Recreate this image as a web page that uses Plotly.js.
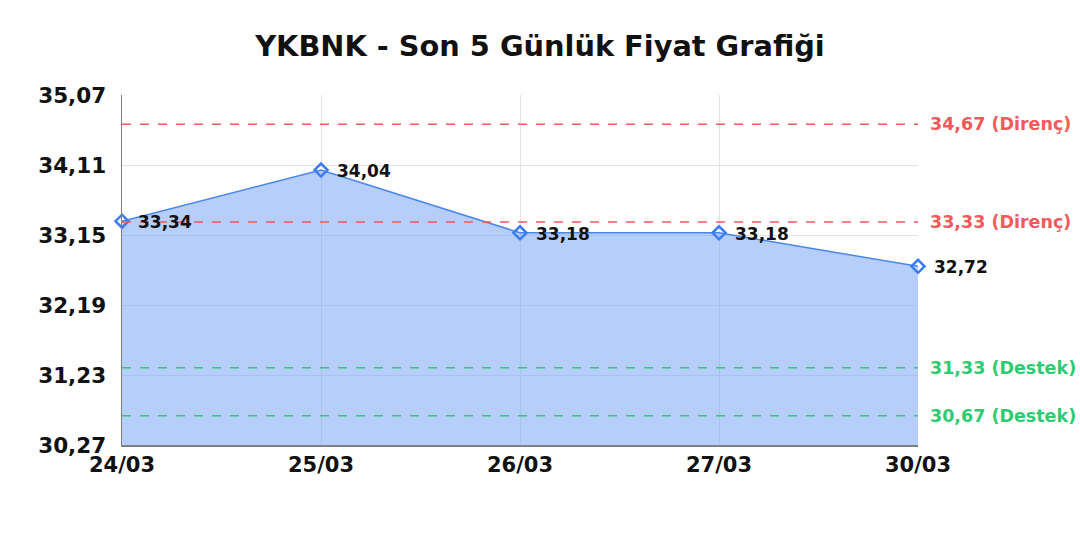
<!DOCTYPE html>
<html>
<head>
<meta charset="utf-8">
<script src="https://cdn.plot.ly/plotly-3.0.1.min.js"></script>
<style>
  html, body { margin: 0; padding: 0; background: #fff; }
  #chart { width: 1080px; height: 540px; }
</style>
</head>
<body>
<div id="chart"></div>
<script>
// price data
const days = ["24/03", "25/03", "26/03", "27/03", "30/03"];
const prices = [33.34, 34.04, 33.18, 33.18, 32.72];

// y axis ticks
const yTicks = [30.27, 31.23, 32.19, 33.15, 34.11, 35.07];

// support / resistance levels
const levels = [34.67, 33.33, 31.33, 30.67];
const levelNames = ["Direnç", "Direnç", "Destek", "Destek"];
const levelColors = ["#f25a5a", "#f25a5a", "#2ecc71", "#2ecc71"];

const fmt = v => v.toFixed(2).replace(".", ",");

const trace = {
  x: days,
  y: prices,
  type: "scatter",
  mode: "lines+markers",
  fill: "tozeroy",
  fillcolor: "rgba(120,165,245,0.55)",
  line: { color: "#4a86f0", width: 1.5 },
  marker: { symbol: "diamond-open", size: 10, color: "#3b7cf0", line: { width: 2.5 } },
  cliponaxis: false,
  hoverinfo: "skip"
};

const shapes = levels.map((v, i) => ({
  type: "line", xref: "paper", x0: 0, x1: 1, yref: "y", y0: v, y1: v,
  line: { color: levelColors[i], width: 1.5, dash: "dash" }
}));

const annotations = levels.map((v, i) => ({
  xref: "paper", x: 1, xanchor: "left", xshift: 10,
  yref: "y", y: v, yanchor: "middle",
  text: fmt(v) + " (" + levelNames[i] + ")",
  showarrow: false,
  font: { family: "DejaVu Sans", size: 17.5, color: levelColors[i], weight: "bold" }
})).concat(prices.map((p, i) => ({
  x: i, y: p, xref: "x", yref: "y",
  xanchor: "left", yanchor: "middle", xshift: 14, yshift: -1,
  text: fmt(p), showarrow: false,
  font: { family: "DejaVu Sans", size: 17, color: "#111", weight: "bold" }
})));

const layout = {
  width: 1080, height: 540,
  paper_bgcolor: "#fff", plot_bgcolor: "#fff",
  margin: { l: 122, r: 162, t: 95, b: 95 },
  title: {
    text: "YKBNK - Son 5 Günlük Fiyat Grafiği",
    x: 0.5, xanchor: "center", y: 0.915, yanchor: "middle",
    font: { family: "DejaVu Sans", size: 28.8, color: "#111", weight: "bold" }
  },
  showlegend: false,
  xaxis: {
    type: "category", range: [0, 4],
    showgrid: true, gridcolor: "#e3e3e3", gridwidth: 1,
    showline: true, linecolor: "#808080", linewidth: 1.5,
    ticks: "", ticklen: 0,
    tickfont: { family: "DejaVu Sans", size: 21, color: "#111", weight: "bold" },
    fixedrange: true, zeroline: false
  },
  yaxis: {
    range: [yTicks[0], yTicks[yTicks.length - 1]],
    tickvals: yTicks, ticktext: yTicks.map(fmt),
    showgrid: true, gridcolor: "#e3e3e3", gridwidth: 1,
    showline: true, linecolor: "#808080", linewidth: 1.5,
    ticks: "", ticklen: 0, ticklabelstandoff: 10,
    tickfont: { family: "DejaVu Sans", size: 21.5, color: "#111", weight: "bold" },
    fixedrange: true, zeroline: false
  },
  shapes: shapes,
  annotations: annotations
};

Plotly.newPlot("chart", [trace], layout, { displayModeBar: false, staticPlot: true });
</script>
</body>
</html>
